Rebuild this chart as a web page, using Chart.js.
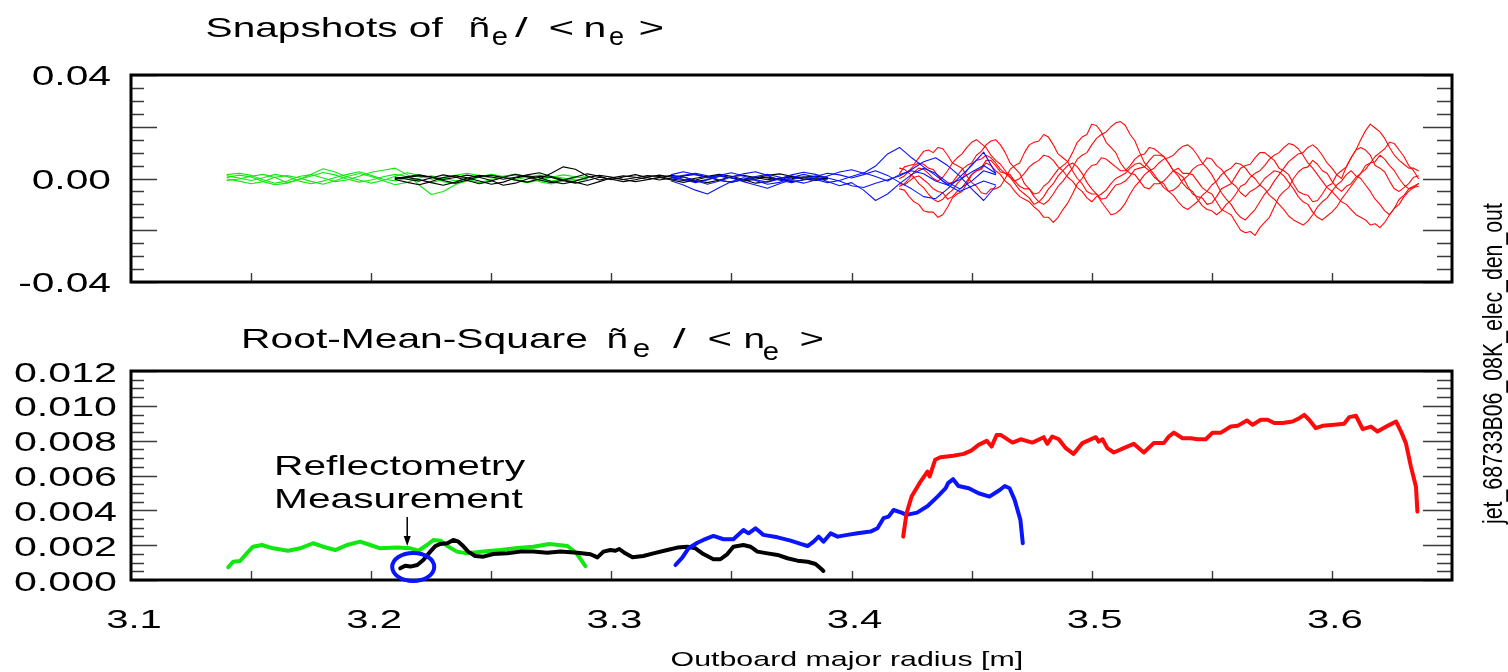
<!DOCTYPE html>
<html>
<head>
<meta charset="utf-8">
<script src="https://cdn.jsdelivr.net/npm/chart.js@4.4.1/dist/chart.umd.min.js"></script>
<style>
  html, body { margin: 0; padding: 0; background: #fff; }
  #wrap { position: relative; width: 1508px; height: 672px; overflow: hidden; background: #fff; }
  #wrap canvas { position: absolute; left: 0; top: 0; }
</style>
</head>
<body>
<div id="wrap">
  <canvas id="snap" width="1508" height="672"></canvas>
  <canvas id="rms" width="1508" height="672"></canvas>
</div>
<script>
// ---------------------------------------------------------------------------
// Density fluctuation profiles vs outboard major radius R [m].
// All fluctuation values below are stored in units of 1e-3 (divided by 1000
// when the datasets are built).
// ---------------------------------------------------------------------------

// Axis ticks / labels
const xTickValues  = [3.15, 3.20, 3.25, 3.30, 3.35, 3.40, 3.45, 3.50, 3.55, 3.60];
const xLabelValues = [3.1, 3.2, 3.3, 3.4, 3.5, 3.6];
const snapYLabels  = [0.04, 0.00, -0.04];
const rmsYLabels   = [0.012, 0.010, 0.008, 0.006, 0.004, 0.002, 0.000];

// ---- Snapshots: green channel ----
const greenSnapR = [3.140,3.145,3.150,3.155,3.160,3.165,3.170,3.175,3.180,3.185,3.190,3.195,3.200,3.205,3.210,3.215,
                    3.220,3.225,3.230,3.235,3.240,3.245,3.250,3.255,3.260,3.265,3.270,3.275,3.280,3.285,3.290];
const greenSnaps = [
  [1.5,2.0,1.2,-0.5,-1.8,-1.0,0.8,1.5,0.2,-1.2,-0.6,0.9,2.4,3.2,4.0,1.5,-2.5,-6.2,-5.0,-2.4,-0.6,0.6,1.4,0.6,-0.4,0.5,1.3,0.7,-0.2,-0.8,-0.3],
  [-0.8,-0.2,0.9,1.6,0.4,-1.6,-0.4,1.6,3.8,2.5,0.6,-0.6,-1.8,-0.8,0.9,2.2,1.2,-0.3,0.4,1.2,-0.3,-1.6,-0.5,0.8,1.6,0.9,-0.4,-1.0,-0.3,0.6,0.2],
  [0.4,1.3,0.6,-1.2,-2.4,-1.8,-0.4,1.0,2.3,1.4,-0.2,-1.4,-0.6,0.7,1.6,0.8,-0.6,-1.6,-0.4,1.2,2.0,1.1,0.2,0.9,1.6,0.4,-1.2,-2.1,-1.0,0.3,0.8],
  [-0.2,-1.0,-2.0,-1.2,0.5,1.1,0.2,-1.1,-2.2,-0.9,0.8,1.9,0.8,-0.9,-2.4,-1.5,0.2,1.0,0.1,-0.9,-0.2,0.7,1.5,0.6,-0.8,-1.6,-0.7,0.5,1.4,0.7,-0.2],
  [1.0,0.2,-0.8,0.3,1.6,0.8,-1.0,-2.0,-1.0,0.4,1.6,2.6,1.2,-0.3,-0.9,0.2,1.3,0.4,-1.2,-2.0,-1.0,0.6,1.6,0.8,-0.5,-1.4,-0.3,0.9,0.2,-0.6,0.1]
];

// ---- Snapshots: black channel ----
const blackSnapR = [3.210,3.215,3.220,3.225,3.230,3.235,3.240,3.245,3.250,3.255,3.260,3.265,3.270,3.275,3.280,3.285,3.290,3.295,3.300,
                    3.305,3.310,3.315,3.320,3.325,3.330,3.335,3.340,3.345,3.350,3.355,3.360,3.365,3.370,3.375,3.380,3.385,3.390];
const blackSnaps = [
  [0.2,0.5,1.0,0.6,-0.8,-1.8,-0.6,0.8,1.2,0.4,-0.6,-1.4,-0.2,2.0,4.5,3.6,1.0,-0.6,0.3,1.0,0.5,-0.3,0.4,1.2,0.6,-0.8,-1.6,-0.6,0.8,1.2,0.4,-0.5,0.2,0.9,0.4,-0.2,0.3],
  [-0.4,-1.5,-2.4,-1.2,0.4,1.1,0.3,-1.0,-2.2,-1.4,0.2,1.0,0.4,-1.2,-2.0,-1.0,0.4,1.2,0.6,-0.4,0.3,1.1,0.8,-0.2,-0.8,0.1,0.9,1.6,0.9,-0.4,-1.8,-1.2,0.1,0.6,-0.2,-0.7,0.1],
  [0.0,0.8,1.4,0.6,-0.4,0.4,1.3,0.5,-0.8,-2.6,-1.8,-0.2,0.9,0.4,-0.9,-1.8,-0.8,0.5,-0.3,-1.2,-0.5,0.6,1.3,0.6,-0.4,-1.2,-0.4,0.9,0.3,-0.6,0.2,1.2,1.8,0.9,-0.2,-0.8,-0.2],
  [0.5,-0.3,-1.0,0.2,1.4,0.6,-0.8,-2.0,-1.0,0.5,1.6,0.7,-0.6,-1.6,-0.6,0.6,1.8,0.9,-0.5,0.6,1.5,0.4,-0.6,0.2,1.0,1.6,0.6,-0.8,-1.4,-0.4,0.7,0.2,-0.6,-0.1,0.6,0.9,0.4],
  [-0.2,0.4,-0.4,-1.6,-2.6,-1.4,0.2,1.2,0.6,-0.3,0.5,1.4,2.2,0.8,-0.6,-1.4,-2.6,-1.2,0.2,-0.4,-1.2,-0.5,0.4,-0.6,-1.5,-0.6,0.6,1.2,0.2,-1.0,-0.3,0.6,-0.2,-1.2,-0.6,0.3,0.0]
];

// ---- Snapshots: blue channel ----
const blueSnapR = [3.325,3.330,3.335,3.340,3.345,3.350,3.355,3.360,3.365,3.370,3.375,3.380,3.385,3.390,
                   3.395,3.400,3.405,3.410,3.415,3.420,3.425,3.430,3.435,3.440,3.445,3.450,3.455,3.460];
const blueSnaps = [
  [0.5,1.2,2.0,1.0,-0.6,-1.5,-0.4,0.8,1.6,0.6,-0.8,-1.8,-0.6,1.0,2.5,3.4,2.0,4.8,9.5,12.0,8.0,4.5,1.2,-2.5,-5.0,-3.0,-1.0,-2.5],
  [-1.0,-2.5,-4.5,-6.0,-3.5,-1.2,0.3,-0.8,-2.2,-1.5,0.4,1.6,0.6,-1.2,-2.8,-1.6,-4.5,-8.5,-6.0,-2.0,1.5,4.0,2.0,-1.5,-4.0,-1.0,3.0,1.5],
  [1.5,2.6,1.5,0.2,1.2,2.2,1.0,-0.5,-1.4,-0.2,1.4,2.4,1.6,0.2,-1.0,-2.8,-3.5,-1.8,-0.5,1.0,3.5,6.5,8.0,5.0,1.0,-4.0,-8.5,-3.0],
  [-0.3,0.6,-0.8,-2.2,-1.0,0.6,1.8,2.6,1.2,-0.6,-1.6,-0.4,0.8,2.0,1.4,0.2,1.5,3.0,1.2,-1.5,-4.0,-7.0,-7.8,-4.0,0.5,5.0,10.2,2.0],
  [0.8,-0.4,-1.6,-0.6,0.9,0.3,-1.2,-2.5,-3.8,-2.0,-0.5,0.6,-0.4,-1.6,-0.8,0.8,2.2,0.8,-1.0,1.5,3.0,1.8,-1.0,-2.5,-0.5,2.5,5.0,2.0]
];

// ---- Snapshots: red channel (step 0.002 m) ----
const redSnapR = [3.420,3.422,3.424,3.426,3.428,3.430,3.432,3.434,3.436,3.438,3.440,3.442,3.444,3.446,3.448,3.450,3.452,3.454,3.456,3.458,
                  3.460,3.462,3.464,3.466,3.468,3.470,3.472,3.474,3.476,3.478,3.480,3.482,3.484,3.486,3.488,3.490,3.492,3.494,3.496,3.498,
                  3.500,3.502,3.504,3.506,3.508,3.510,3.512,3.514,3.516,3.518,3.520,3.522,3.524,3.526,3.528,3.530,3.532,3.534,3.536,3.538,
                  3.540,3.542,3.544,3.546,3.548,3.550,3.552,3.554,3.556,3.558,3.560,3.562,3.564,3.566,3.568,3.570,3.572,3.574,3.576,3.578,
                  3.580,3.582,3.584,3.586,3.588,3.590,3.592,3.594,3.596,3.598,3.600,3.602,3.604,3.606,3.608,3.610,3.612,3.614,3.616,3.618,
                  3.620,3.622,3.624,3.626,3.628,3.630,3.632,3.634,3.636];
const redSnaps = [
  [2,4.5,5,5.5,8,10.5,11,10,12,11.5,9,6,5,4,1,-1.5,-3,-5.5,-6,-4,-4,-3,0,3.5,5,6,10,13,14,14.5,
   17,16,13,9.5,8,6.5,3,0,-2,-5,-6,-6,-8,-7.5,-5,-2.5,-2,-1,1,3.5,4,4.5,7,9,9,8.5,6,3,2,0.5,
   -3,-6,-7,-7.5,-10,-9.5,-7,-4,-3,-2,1,4,5,5.5,8,10,10,8.5,7,4,3,1.5,-2,-5,-6,-6.5,-9,-8.5,-6,-3,
   -2,1.5,3,4.5,8,11,12,11,9,5,4,2.5,-1,-4,-5,-3.5,-2,0.5,1],
  [-4,-4.5,-7,-9,-10,-12.5,-13,-13,-15,-14,-11,-7.5,-6,-5,-2,1.5,3,4,7,7,5,2.5,2,1.5,-1,-3,-4,-4,-6,-5.5,
   -3,-1.5,1,3.5,5,6.5,10,14,16,17,21,20.5,18,14,12,10,6,3.5,2,1.5,-1,-3.5,-4,-2,-2,-1,1,3,4,2,
   2,1.5,-1,-3.5,-5,-6,-9,-12,-13,-14,-17,-20,-21,-20.5,-22,-19,-17,-15,-11,-7,-5,-3.5,0,2.5,4,4.5,7,5.5,3,2,
   -1,-3.5,-5,-3,-2,0.5,2,3.5,6,8.5,10,11.5,14,13.5,11,8.5,5,3,0],
  [0,1,3,5,6,5.5,4,3.5,1,-1,-2,-1.5,1,3.5,5,6,9,10.5,13,14.5,15,13,10,6,4,2,-2,-4,-7,-9,
   -10,-8.5,-6,-3,-1,1.5,4,7.5,9,10,13,15.5,17,18,20,21.5,22,20.5,17,14.5,10,6,4,1.5,-1,-2,-5,-4.5,-3,-0.5,
   1,3.5,5,5.5,8,7.5,5,3.5,1,-1.5,-3,-5.5,-7,-5,-4,-2.5,0,1.5,3,2.5,1,-1.5,-4,-7,-9,-10,-13,-15,-16,-14.5,
   -13,-11,-8,-5.5,-3,-0.5,2,5,6,6.5,9,7.5,5,3,0,-2.5,-4,-3,-2],
  [-2,-2.5,-1,0.5,1,-0.5,-2,-4,-5,-5.5,-8,-7,-5,-3.5,-1,1.5,3,3.5,6,5,3,1.5,-1,-2.5,-5,-7,-8,-9,-11,-12.5,
   -15,-15,-17,-15,-12,-9.5,-6,-2,0,3,5,5.5,8,7.5,6,4.5,3,3,5,7.5,9,9.5,12,11.5,10,8.5,6,3,1,-2,
   -4,-5,-8,-10.5,-12,-12.5,-14,-12.5,-10,-8.5,-6,-3,-2,0.5,2,3,5,7.5,9,10,12,13.5,13,11.5,9,6,4,1.5,-1,-3.5,
   -5,-7,-9,-10,-12,-14,-15,-16,-18,-17.5,-19,-17,-14,-11.5,-8,-6.5,-4,-3.5,-3],
  [4,3.5,2,0.5,-2,-3.5,-6,-8,-9,-8,-6,-4.5,-2,0,3,5.5,7,7.5,9,8,6,3.5,2,0.5,-2,-4.5,-6,-7.5,-10,-9,
   -7,-4,-2,1,3,5,6,4.5,2,-1.5,-4,-6,-9,-11.5,-14,-13.5,-12,-9.5,-6,-3,-1,1.5,3,4,6,7.5,8,9,11,12.5,
   13,11.5,9,6,4,1.5,-2,-5.5,-8,-10,-13,-15,-16,-14,-12,-9,-6,-4,-1,1.5,4,6.5,8,9.5,10,12,13,11.5,9,6,
   4,1.5,0,4.5,8,11,15,18.5,21,19.5,18,15.5,12,9,7,5.5,4,4,3],
  [-3,-2,0,2.5,4,3.5,2,0,-1,0.5,3,6,8,9.5,12,14,15,13.5,12,9,7,5.5,3,0.5,-1,0,2,4.5,6,7,
   9,8.5,7,4.5,3,0.5,-1,-3.5,-5,-7.5,-9,-7,-6,-4.5,-2,0,1,2,4,5.5,6,4.5,3,0.5,-1,-3.5,-5,-6.5,-9,-11,
   -12,-10.5,-9,-6.5,-5,-2.5,-1,1.5,3,4,6,5.5,4,1.5,0,-2.5,-4,-6.5,-8,-10,-12,-14.5,-16,-17,-18,-16.5,-14,-11,
   -9,-7.5,-5,-2.5,-1,1.5,3,1,0,-2.5,-5,-8,-10,-12.5,-14,-11.5,-10,-7,-5,-3.5,-2]
];

// ---- RMS profiles ----
const rmsGreenR = [3.1405,3.1425,3.1454,3.1482,3.1508,3.1545,3.1592,3.1654,3.1704,3.1758,3.1800,3.1850,3.1899,3.1954,3.1996,3.2038,3.2107,
                   3.2163,3.2197,3.2232,3.2260,3.2288,3.2322,3.2357,3.2399,3.2467,3.2538,3.2608,3.2675,3.2742,3.2817,3.2854,3.2892];
const rmsGreen  = [0.73,1.05,1.09,1.53,1.91,2.01,1.82,1.68,1.82,2.11,1.91,1.72,2.01,2.20,2.01,1.82,1.86,
                   1.82,1.68,2.01,2.30,2.26,1.91,1.63,1.53,1.63,1.72,1.84,1.91,2.07,1.95,1.55,0.80];

const rmsBlackR = [3.2121,3.2142,3.2163,3.2192,3.2217,3.2246,3.2267,3.2288,3.2317,3.2342,3.2363,3.2383,3.2404,3.2433,3.2467,3.2508,3.2567,
                   3.2621,3.2675,3.2733,3.2788,3.2858,3.2913,3.2942,3.2967,3.2996,3.3017,3.3033,3.3058,3.3088,3.3133,3.3175,3.3233,
                   3.3275,3.3317,3.3350,3.3383,3.3425,3.3454,3.3483,3.3508,3.3550,3.3579,3.3608,3.3650,3.3692,3.3733,3.3775,3.3817,
                   3.3850,3.3871,3.3883];
const rmsBlack  = [0.67,0.82,0.77,0.86,1.15,1.63,1.95,2.07,2.11,2.30,2.20,1.95,1.63,1.38,1.34,1.49,1.53,
                   1.63,1.63,1.57,1.63,1.57,1.48,1.30,1.63,1.72,1.68,1.78,1.53,1.30,1.38,1.53,1.72,
                   1.86,1.91,1.82,1.49,1.19,1.19,1.49,1.91,2.01,1.91,1.63,1.53,1.44,1.25,1.11,1.05,
                   0.92,0.67,0.52];

const rmsBlueR = [3.3267,3.3296,3.3321,3.3358,3.3383,3.3425,3.3467,3.3508,3.3550,3.3571,3.3600,3.3633,3.3692,3.3746,3.3788,3.3817,
                  3.3842,3.3863,3.3883,3.3913,3.3942,3.3983,3.4025,3.4079,3.4108,3.4133,3.4154,3.4175,3.4208,3.4229,3.4273,3.4317,
                  3.4358,3.4392,3.4402,3.4423,3.4445,3.4488,3.4529,3.4574,3.4617,3.4638,3.4658,3.4679,3.4703,3.4713];
const rmsBlue  = [0.86,1.30,1.82,2.14,2.30,2.53,2.34,2.34,2.87,2.68,2.97,2.59,2.45,2.26,2.07,1.95,
                  2.20,2.49,2.20,2.68,2.49,2.59,2.68,2.78,2.97,3.55,3.64,4.02,3.87,3.74,3.87,4.25,
                  4.79,5.27,5.56,5.79,5.40,5.27,4.98,4.79,5.17,5.40,5.27,4.60,3.45,2.11];

const rmsRedR = [3.4215,3.4229,3.4250,3.4283,3.4316,3.4325,3.4348,3.4370,3.4423,3.4467,3.4498,3.4529,3.4563,3.4583,3.4604,
                 3.4621,3.4670,3.4704,3.4753,3.4800,3.4815,3.4836,3.4863,3.4892,3.4924,3.4961,3.5017,3.5029,3.5045,3.5065,
                 3.5092,3.5133,3.5175,3.5217,3.5258,3.5300,3.5321,3.5342,3.5378,3.5413,3.5440,3.5475,3.5503,3.5538,3.5579,
                 3.5607,3.5646,3.5670,3.5704,3.5732,3.5760,3.5795,3.5836,3.5864,3.5885,3.5905,3.5933,3.5961,3.6010,3.6051,
                 3.6072,3.6100,3.6128,3.6163,3.6190,3.6232,3.6267,3.6288,3.6308,3.6329,3.6350,3.6356];
const rmsRed  = [2.49,3.83,4.79,5.56,6.22,5.94,6.90,7.05,7.13,7.24,7.43,7.76,7.99,7.66,8.33,
                 8.33,7.89,8.08,7.89,8.20,7.82,8.24,8.08,7.57,7.24,7.86,8.20,7.95,8.08,7.57,
                 7.32,7.57,7.82,7.32,7.86,7.86,8.24,8.46,8.14,8.14,8.08,8.08,8.46,8.46,8.81,
                 8.85,9.16,8.91,9.20,9.20,9.01,9.01,9.10,9.29,9.48,9.20,8.72,8.85,8.91,8.97,
                 9.35,9.43,8.66,8.81,8.52,8.85,9.10,8.52,7.86,6.51,5.36,3.93];

// Marked reflectometry point (R, rms in 1e-3)
const reflectoMark = { r: 3.2175, v: 0.75 };

// ---------------------------------------------------------------------------
const FONT = '"Liberation Sans", Arial, Helvetica, sans-serif';
const GREEN = '#10e810', BLACK = '#000000', BLUE = '#0a14ff', RED = '#ff0a0a';

function pts(xs, ys) {
  const n = Math.min(xs.length, ys.length);
  const out = [];
  for (let i = 0; i < n; i++) out.push({ x: xs[i], y: ys[i] / 1000 });
  return out;
}
function line(xs, ys, color, width) {
  return {
    data: pts(xs, ys), borderColor: color, borderWidth: width,
    pointRadius: 0, fill: false, tension: 0,
    borderJoinStyle: 'round', borderCapStyle: 'round'
  };
}

// Draw text so that its ink spans [left, right], horizontally stretched.
function fitText(ctx, text, left, right, baseline, size) {
  ctx.save();
  ctx.font = size + 'px ' + FONT;
  ctx.textAlign = 'left';
  ctx.textBaseline = 'alphabetic';
  const m = ctx.measureText(text);
  const ink = m.actualBoundingBoxLeft + m.actualBoundingBoxRight;
  ctx.translate(left, baseline);
  ctx.scale((right - left) / ink, 1);
  ctx.fillText(text, m.actualBoundingBoxLeft, 0);
  ctx.restore();
}
// Horizontal stretch factor so that `sample` ink is `width` px wide.
function stretchFor(ctx, sample, size, width) {
  ctx.save();
  ctx.font = size + 'px ' + FONT;
  const m = ctx.measureText(sample);
  ctx.restore();
  return width / (m.actualBoundingBoxLeft + m.actualBoundingBoxRight);
}
function wideText(ctx, text, x, baseline, size, sx, align) {
  ctx.save();
  ctx.font = size + 'px ' + FONT;
  ctx.textAlign = align;
  ctx.textBaseline = 'alphabetic';
  ctx.translate(x, baseline);
  ctx.scale(sx, 1);
  ctx.fillText(text, 0, 0);
  ctx.restore();
}

// Frame, inward ticks and labels for one panel.
function panelPlugin(opt) {
  return {
    id: 'panelFrame',
    afterDatasetsDraw(chart) {
      const ctx = chart.ctx, a = chart.chartArea;
      const xs = chart.scales.x, ys = chart.scales.y;
      ctx.save();
      // y ticks (left and right), minor + major
      ctx.strokeStyle = '#3a3a3a';
      ctx.lineWidth = 1.4;
      ctx.beginPath();
      const n = Math.round((opt.yMax - opt.yMin) / opt.minor);
      for (let i = 0; i <= n; i++) {
        const v = opt.yMin + i * opt.minor;
        const r = v / opt.major;
        const major = Math.abs(r - Math.round(r)) < 1e-6;
        const py = Math.round(ys.getPixelForValue(v)) + 0.5;
        ctx.moveTo(a.left, py);  ctx.lineTo(a.left + (major ? 26 : 13), py);
        ctx.moveTo(a.right, py); ctx.lineTo(a.right - (major ? 29 : 15), py);
      }
      // x ticks on the bottom edge
      xTickValues.forEach(t => {
        const px = Math.round(xs.getPixelForValue(t)) + 0.5;
        ctx.moveTo(px, a.bottom);
        ctx.lineTo(px, a.bottom - 9);
      });
      ctx.stroke();
      // frame
      ctx.strokeStyle = '#000';
      ctx.lineWidth = 3;
      ctx.strokeRect(a.left, a.top, a.right - a.left, a.bottom - a.top);
      ctx.restore();

      // y labels
      ctx.fillStyle = '#000';
      const sx = stretchFor(ctx, opt.sample, opt.labelSize, opt.sampleWidth);
      opt.labels.forEach(v => {
        const py = ys.getPixelForValue(v);
        wideText(ctx, v.toFixed(opt.digits), opt.labelRight, py + opt.labelShift, opt.labelSize, sx, 'right');
      });
      if (opt.extra) opt.extra(chart);
    }
  };
}

function baseOptions(yMin, yMax, padTop, padBottom) {
  return {
    responsive: false,
    animation: false,
    devicePixelRatio: 1,
    layout: { padding: { left: 131, right: 56, top: padTop, bottom: padBottom } },
    plugins: { legend: { display: false }, tooltip: { enabled: false } },
    events: [],
    scales: {
      x: { type: 'linear', min: 3.1, max: 3.65, display: false },
      y: { type: 'linear', min: yMin, max: yMax, display: false }
    }
  };
}

// ---- Top panel: snapshots ----
const snapSets = [];
blueSnaps.forEach(s => snapSets.push(line(blueSnapR, s, BLUE, 1.1)));
redSnaps.forEach(s => snapSets.push(line(redSnapR, s, RED, 1.1)));
blackSnaps.forEach(s => snapSets.push(line(blackSnapR, s, BLACK, 1.1)));
greenSnaps.forEach(s => snapSets.push(line(greenSnapR, s, GREEN, 1.1)));

new Chart(document.getElementById('snap'), {
  type: 'line',
  data: { datasets: snapSets },
  options: baseOptions(-0.04, 0.04, 75, 390),
  plugins: [panelPlugin({
    yMin: -0.04, yMax: 0.04, major: 0.02, minor: 0.005,
    labels: snapYLabels, digits: 2, labelSize: 28, labelRight: 111, labelShift: 10,
    sample: '0.00', sampleWidth: 77,
    extra(chart) {
      const ctx = chart.ctx;
      ctx.fillStyle = '#000';
      // Title: Snapshots of ñe / < ne >
      fitText(ctx, 'Snapshots of', 207, 443, 37, 28);
      fitText(ctx, 'ñ', 470, 488, 37, 28);
      fitText(ctx, 'e', 493, 507, 45, 25);
      fitText(ctx, '/', 515, 528, 37, 28);
      fitText(ctx, '<', 550, 572, 37, 28);
      fitText(ctx, 'n', 585, 604, 37, 28);
      fitText(ctx, 'e', 610, 623, 45, 25);
      fitText(ctx, '>', 640, 662, 37, 28);
    }
  })]
});

// ---- Bottom panel: RMS ----
new Chart(document.getElementById('rms'), {
  type: 'line',
  data: {
    datasets: [
      line(rmsRedR, rmsRed, RED, 4),
      line(rmsBlueR, rmsBlue, BLUE, 4),
      line(rmsBlackR, rmsBlack, BLACK, 4),
      line(rmsGreenR, rmsGreen, GREEN, 4)
    ]
  },
  options: baseOptions(0, 0.012, 371, 92),
  plugins: [panelPlugin({
    yMin: 0, yMax: 0.012, major: 0.002, minor: 0.0005,
    labels: rmsYLabels, digits: 3, labelSize: 27, labelRight: 117, labelShift: 10.5,
    sample: '0.000', sampleWidth: 100,
    extra(chart) {
      const ctx = chart.ctx;
      const xs = chart.scales.x, ys = chart.scales.y;
      ctx.fillStyle = '#000';

      // x tick labels
      const sx = stretchFor(ctx, '3.5', 26, 55);
      xLabelValues.forEach(v => {
        wideText(ctx, v.toFixed(1), xs.getPixelForValue(v) + 3, 628, 26, sx, 'center');
      });

      // Title: Root-Mean-Square ñe / < ne >
      fitText(ctx, 'Root-Mean-Square', 244, 587, 348, 28);
      fitText(ctx, 'ñ', 608, 626, 348, 28);
      fitText(ctx, 'e', 634, 649, 357, 25);
      fitText(ctx, '/', 673, 686, 348, 28);
      fitText(ctx, '<', 709, 730, 348, 28);
      fitText(ctx, 'n', 745, 763, 348, 28);
      fitText(ctx, 'e', 764, 778, 360, 25);
      fitText(ctx, '>', 801, 822, 348, 28);

      // Axis title
      fitText(ctx, 'Outboard major radius [m]', 672, 1022, 666, 21);

      // Annotation
      fitText(ctx, 'Reflectometry', 277, 525, 475, 28);
      fitText(ctx, 'Measurement', 277, 523, 508, 28);

      const cx = xs.getPixelForValue(reflectoMark.r);
      const cy = ys.getPixelForValue(reflectoMark.v / 1000);
      ctx.save();
      ctx.strokeStyle = '#000';
      ctx.lineWidth = 1.5;
      ctx.beginPath();
      ctx.moveTo(cx - 6, 517);
      ctx.lineTo(cx - 6, 538);
      ctx.stroke();
      ctx.beginPath();
      ctx.moveTo(cx - 9.5, 536);
      ctx.lineTo(cx - 2.5, 536);
      ctx.lineTo(cx - 6, 546);
      ctx.closePath();
      ctx.fillStyle = '#000';
      ctx.fill();
      ctx.strokeStyle = BLUE;
      ctx.lineWidth = 4;
      ctx.beginPath();
      ctx.ellipse(cx, cy, 21, 14, 0, 0, Math.PI * 2);
      ctx.stroke();
      ctx.restore();

      // Vertical run identifier
      ctx.save();
      ctx.fillStyle = '#000';
      ctx.font = '21px ' + FONT;
      ctx.textAlign = 'left';
      ctx.textBaseline = 'alphabetic';
      const id = 'jet_68733B06_08K_elec_den_out';
      const m = ctx.measureText(id);
      ctx.translate(1502, 525);
      ctx.rotate(-Math.PI / 2);
      ctx.scale(322 / (m.actualBoundingBoxLeft + m.actualBoundingBoxRight), 1.3);
      ctx.fillText(id, m.actualBoundingBoxLeft, 0);
      ctx.restore();
    }
  })]
});
</script>
</body>
</html>
